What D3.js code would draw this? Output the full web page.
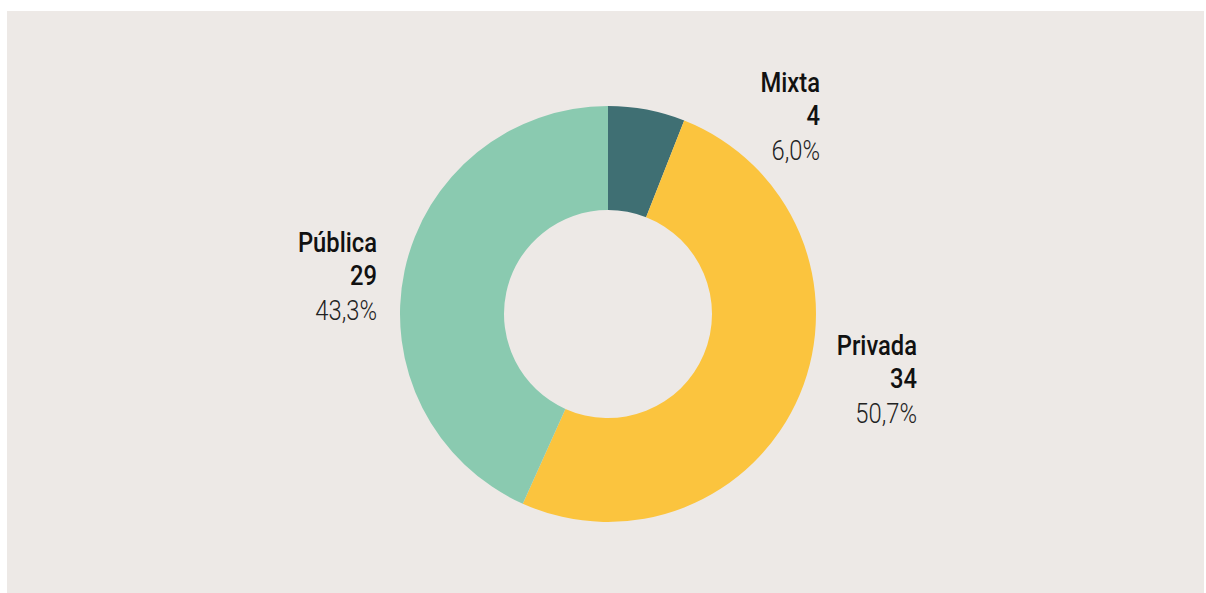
<!DOCTYPE html>
<html>
<head>
<meta charset="utf-8">
<script src="https://cdn.jsdelivr.net/npm/d3@7"></script>
<style>
  html, body { margin: 0; padding: 0; background: #ffffff; }
  svg { display: block; }
</style>
</head>
<body>
<svg id="chart" width="1206" height="593"></svg>
<script>
const categories = ['Mixta', 'Privada', 'Pública']
const values = [4, 34, 29]
const percents = ['6,0%', '50,7%', '43,3%']
const colors = ['#3f6f73', '#fbc43e', '#8acab0']

const width = 1206
const height = 593
const cx = 608
const cy = 314
const outerR = 208
const innerR = 104

const svg = d3.select('#chart')

svg.append('rect')
  .attr('x', 7)
  .attr('y', 11)
  .attr('width', 1197)
  .attr('height', 582)
  .attr('fill', '#ede9e6')

const data = categories.map((name, i) => ({ name, value: values[i], pct: percents[i], color: colors[i] }))

const pie = d3.pie().sort(null).value(d => d.value)
const arc = d3.arc().innerRadius(innerR).outerRadius(outerR)

const g = svg.append('g').attr('transform', `translate(${cx},${cy})`)

g.selectAll('path')
  .data(pie(data))
  .enter()
  .append('path')
  .attr('d', arc)
  .attr('fill', d => d.data.color)

// label anchors (right-aligned text blocks), relative to the center
const labelPos = {
  'Mixta': [212, -222],
  'Privada': [309, 41],
  'Pública': [-231, -62]
}

// the original face is a condensed DIN-like one, so squeeze Roboto a bit
const squeeze = 0.88

const labels = svg.selectAll('.label')
  .data(data)
  .enter()
  .append('text')
  .attr('class', 'label')
  .attr('text-anchor', 'end')
  .style('font-family', 'Roboto, sans-serif')
  .style('font-size', '27px')
  .attr('transform', d => `translate(${cx + labelPos[d.name][0]},${cy + labelPos[d.name][1]}) scale(${squeeze},1)`)

labels.append('tspan')
  .attr('x', 0)
  .attr('y', 0)
  .attr('font-weight', 500)
  .attr('fill', '#111111')
  .text(d => d.name)

labels.append('tspan')
  .attr('x', 0)
  .attr('y', 33)
  .attr('font-weight', 500)
  .attr('fill', '#111111')
  .text(d => d.value)

labels.append('tspan')
  .attr('x', 0)
  .attr('y', 68)
  .attr('font-weight', 300)
  .attr('fill', '#222222')
  .text(d => d.pct)
</script>
</body>
</html>
